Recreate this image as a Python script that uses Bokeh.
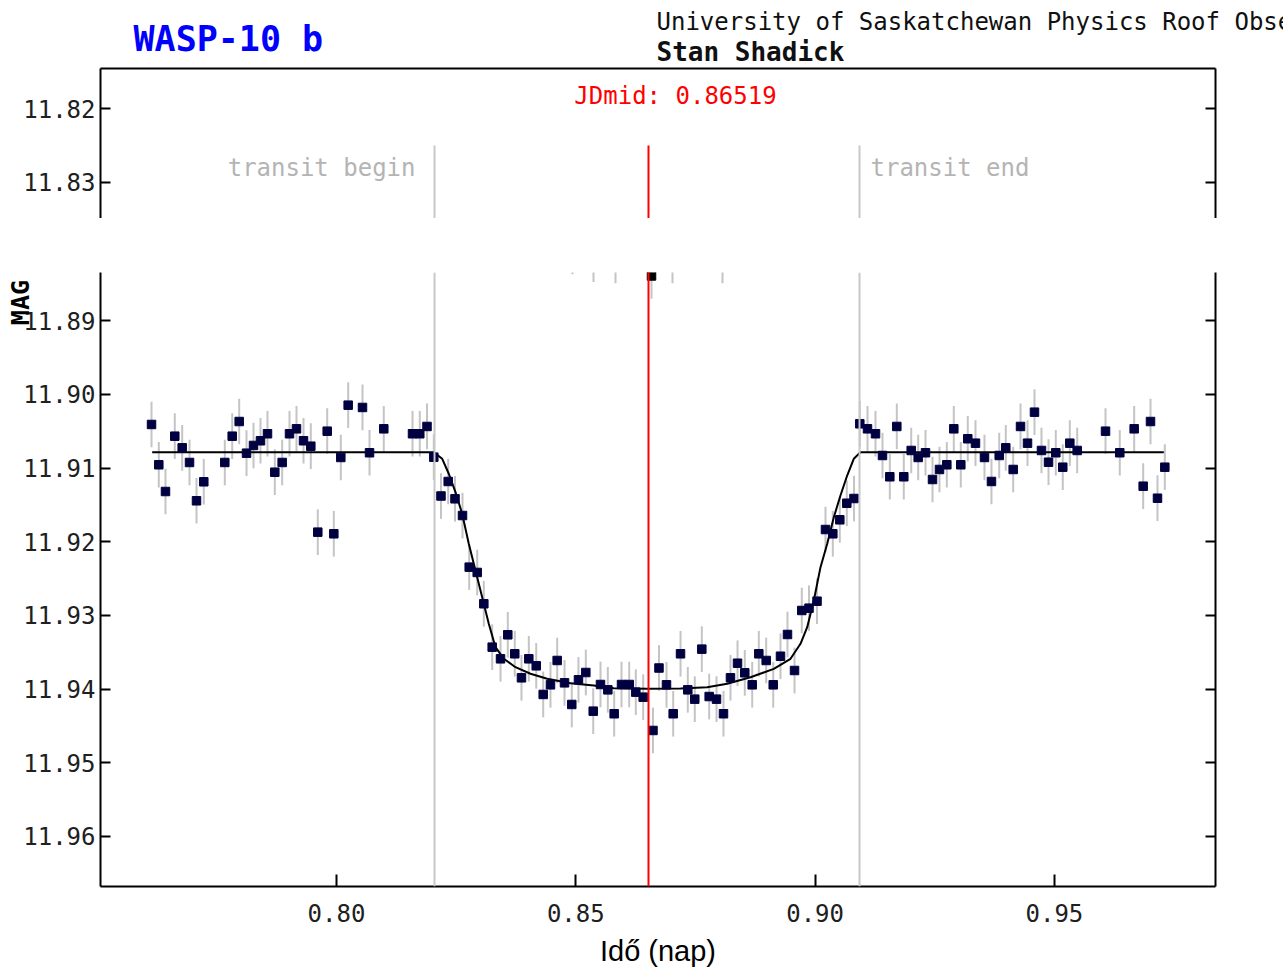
import math
from bokeh.plotting import figure
from bokeh.models import Range1d, LinearAxis, FixedTicker, Label, Span
from bokeh.layouts import column
from bokeh.embed import file_html
from bokeh.resources import INLINE

# ---------------- data ----------------
time_day = [
    0.76135, 0.76287, 0.76427, 0.76621, 0.76776, 0.76929, 0.77075, 0.77227,
    0.77666, 0.77821, 0.77967, 0.78120, 0.78266, 0.78412, 0.78558, 0.78711,
    0.78865, 0.79018, 0.79164, 0.79311, 0.79463, 0.79609, 0.79806, 0.79944,
    0.80090, 0.80244, 0.80543, 0.80690, 0.80988, 0.81588, 0.81740, 0.81891,
    0.82033, 0.82183, 0.82334, 0.82476, 0.82633, 0.82773, 0.82940, 0.83078,
    0.83253, 0.83427, 0.83579, 0.83725, 0.83865, 0.84018, 0.84173, 0.84319,
    0.84471, 0.84611, 0.84764, 0.84916, 0.85056, 0.85209, 0.85364, 0.85516,
    0.85669, 0.85802, 0.85955, 0.86116, 0.86254, 0.86408, 0.86613, 0.86738,
    0.86895, 0.87035, 0.87188, 0.87340, 0.87486, 0.87633, 0.87787, 0.87940,
    0.88086, 0.88232, 0.88379, 0.88531, 0.88686, 0.88824, 0.88978, 0.89125,
    0.89277, 0.89423, 0.89570, 0.89722, 0.89873, 0.90040, 0.90217, 0.90370,
    0.90516, 0.90662, 0.90813, 0.90934, 0.91095, 0.91262, 0.91408, 0.91561,
    0.91707, 0.91853, 0.92008, 0.92154, 0.92307, 0.92453, 0.92599, 0.92752,
    0.92898, 0.93044, 0.93190, 0.93351, 0.93539, 0.93685, 0.93847, 0.93984,
    0.94139, 0.94292, 0.94438, 0.94584, 0.94730, 0.94877, 0.95029, 0.95175,
    0.95322, 0.95476, 0.96068, 0.96366, 0.96667, 0.96855, 0.97008, 0.97154,
    0.97307,
]
mag = [
    11.90407, 11.90954, 11.91317, 11.90566, 11.90724, 11.90923, 11.91443, 11.91185,
    11.90923, 11.90566, 11.90367, 11.90797, 11.90692, 11.90628, 11.90533, 11.91055,
    11.90923, 11.90533, 11.90466, 11.90628, 11.90702, 11.91869, 11.90498, 11.91891,
    11.90855, 11.90145, 11.90176, 11.90791, 11.90466, 11.90533, 11.90533, 11.90434,
    11.90851, 11.91378, 11.91181, 11.91416, 11.91643, 11.92344, 11.92416, 11.92841,
    11.93430, 11.93588, 11.93262, 11.93520, 11.93846, 11.93588, 11.93683, 11.94072,
    11.93941, 11.93611, 11.93914, 11.94208, 11.93873, 11.93774, 11.94299, 11.93937,
    11.94009, 11.94334, 11.93937, 11.93937, 11.94041, 11.94109, 11.94561, 11.93713,
    11.93941, 11.94334, 11.93520, 11.94009, 11.94136, 11.93457, 11.94100, 11.94136,
    11.94334, 11.93846, 11.93648, 11.93778, 11.93941, 11.93520, 11.93611, 11.93941,
    11.93553, 11.93258, 11.93747, 11.92932, 11.92901, 11.92806, 11.91833, 11.91891,
    11.91701, 11.91476, 11.91412, 11.90398, 11.90466, 11.90533, 11.90828, 11.91117,
    11.90434, 11.91117, 11.90760, 11.90855, 11.90791, 11.91154, 11.91018, 11.90954,
    11.90466, 11.90954, 11.90601, 11.90661, 11.90855, 11.91181, 11.90828, 11.90724,
    11.91018, 11.90434, 11.90661, 11.90240, 11.90760, 11.90919, 11.90791, 11.90987,
    11.90661, 11.90760, 11.90498, 11.90791, 11.90466, 11.91245, 11.90367, 11.91408,
    11.90987,
]
mag_err = 0.0031

model_time = [
    0.76149, 0.82027, 0.82209, 0.82346, 0.82486, 0.82626, 0.82764, 0.82904,
    0.83044, 0.83182, 0.83322, 0.83496, 0.83740, 0.84053, 0.84402, 0.84889,
    0.85376, 0.85794, 0.86492, 0.87188, 0.87745, 0.88163, 0.88650, 0.89137,
    0.89486, 0.89695, 0.89835, 0.89973, 0.90113, 0.90253, 0.90391, 0.90530,
    0.90670, 0.90808, 0.90948, 0.97286,
]
model_mag = [
    11.90783, 11.90783, 11.90873, 11.91076, 11.91326, 11.91619, 11.92027, 11.92389,
    11.92752, 11.93113, 11.93430, 11.93588, 11.93702, 11.93791, 11.93859, 11.93919,
    11.93950, 11.93987, 11.93995, 11.93991, 11.93973, 11.93927, 11.93838, 11.93724,
    11.93588, 11.93384, 11.93159, 11.92796, 11.92344, 11.92027, 11.91666, 11.91371,
    11.91100, 11.90873, 11.90783, 11.90783,
]

# fragments of points lying in the cut-out band (only their lower ends show)
hidden_time = [0.84931, 0.85370, 0.85830, 0.86582, 0.87020, 0.88065]
hidden_mag = [11.88059, 11.88163, 11.88181, 11.88391, 11.88181, 11.88181]

transit_begin = 0.82048
transit_end = 0.90928
jd_mid = 0.86519

x_ticks = [0.80, 0.85, 0.90, 0.95]
x_tick_labels = ["0.80", "0.85", "0.90", "0.95"]
y_ticks_top = [11.82, 11.83]
y_ticks_bottom = [11.89, 11.90, 11.91, 11.92, 11.93, 11.94, 11.95, 11.96]

# ---------------- styling ----------------
MONO = "DejaVu Sans Mono"
TICK_SIZE = "24px"
W = 1283

x_range = Range1d(0.75069, 0.98366)


def style_axis(ax, ticks, labels=None):
    ax.ticker = FixedTicker(ticks=ticks)
    ax.axis_line_color = "black"
    ax.axis_line_width = 2
    ax.major_tick_line_color = "black"
    ax.major_tick_line_width = 2
    ax.major_tick_in = 10
    ax.major_tick_out = 0
    ax.minor_tick_line_color = None
    ax.major_label_text_font = MONO
    ax.major_label_text_font_size = TICK_SIZE
    ax.major_label_text_color = "#202020"
    if labels is None:
        ax.major_label_overrides = {t: "" for t in ticks}
        ax.major_label_text_font_size = "0px"
    else:
        ax.major_label_overrides = dict(zip(ticks, labels))


# ---------------- header strip ----------------
head = figure(width=W, height=66, x_range=Range1d(0, 1), y_range=Range1d(0, 1),
              x_axis_location=None, y_axis_location=None,
              toolbar_location=None, output_backend="svg",
              min_border_left=0, min_border_right=0,
              min_border_top=0, min_border_bottom=0,
              outline_line_color=None, background_fill_color="white")
head.grid.grid_line_color = None
try:
    head.frame_align = False
    HX = 0
except Exception:
    HX = -100
head.add_layout(Label(x=133 + HX, y=28, x_units="screen", y_units="screen",
                      text="WASP-10 b", text_font=MONO, text_font_size="35px",
                      text_font_style="bold", text_color="#0000ff",
                      text_baseline="middle"))
head.add_layout(Label(x=656 + HX, y=45, x_units="screen", y_units="screen",
                      text="University of Saskatchewan Physics Roof Observatory",
                      text_font=MONO, text_font_size=TICK_SIZE,
                      text_color="#101010", text_baseline="middle"))
head.add_layout(Label(x=656 + HX, y=15, x_units="screen", y_units="screen",
                      text="Stan Shadick", text_font=MONO, text_font_size="26px",
                      text_font_style="bold", text_color="#101010",
                      text_baseline="middle"))

# ---------------- top panel ----------------
top = figure(width=W, height=152, x_range=x_range,
             y_range=Range1d(11.83489, 11.81457),
             x_axis_location=None, y_axis_location=None,
             toolbar_location=None, output_backend="svg",
             min_border_left=100, min_border_right=68,
             min_border_top=2, min_border_bottom=0,
             outline_line_color=None, background_fill_color="white")
top.grid.grid_line_color = None

ax = LinearAxis()
style_axis(ax, y_ticks_top, ["%.2f" % t for t in y_ticks_top])
ax.major_label_standoff = 5
top.add_layout(ax, "left")
ax = LinearAxis()
style_axis(ax, y_ticks_top)
top.add_layout(ax, "right")
ax = LinearAxis()
style_axis(ax, [])
ax.major_tick_in = 0
top.add_layout(ax, "above")

top.segment(x0=[transit_begin, transit_end], y0=[11.8250, 11.8250],
            x1=[transit_begin, transit_end], y1=[11.8400, 11.8400],
            line_color="#c8c8c8", line_width=2)
top.segment(x0=[jd_mid], y0=[11.8250], x1=[jd_mid], y1=[11.8400],
            line_color="#ff0000", line_width=2)

top.add_layout(Label(x=jd_mid, y=123, x_units="data", y_units="screen",
                     x_offset=27, text="JDmid: 0.86519", text_font=MONO,
                     text_font_size=TICK_SIZE, text_color="#ff0000",
                     text_align="center", text_baseline="middle"))
top.add_layout(Label(x=transit_begin, y=51, x_units="data", y_units="screen",
                     x_offset=-19, text="transit begin", text_font=MONO,
                     text_font_size=TICK_SIZE, text_color="#b4b4b4",
                     text_align="right", text_baseline="middle"))
top.add_layout(Label(x=transit_end, y=51, x_units="data", y_units="screen",
                     x_offset=11, text="transit end", text_font=MONO,
                     text_font_size=TICK_SIZE, text_color="#b4b4b4",
                     text_align="left", text_baseline="middle"))

# ---------------- bottom panel ----------------
bot = figure(width=W, height=753, x_range=x_range,
             y_range=Range1d(11.96679, 11.88344),
             x_axis_location=None, y_axis_location=None,
             toolbar_location=None, output_backend="svg",
             min_border_left=100, min_border_right=68,
             min_border_top=54, min_border_bottom=85,
             outline_line_color=None, background_fill_color="white")
bot.grid.grid_line_color = None

ax = LinearAxis()
style_axis(ax, y_ticks_bottom, ["%.2f" % t for t in y_ticks_bottom])
ax.major_label_standoff = 5
# trailing no-break spaces push the visible word down from the frame top
ax.axis_label = "MAG\u00a0\u00a0\u00a0\u00a0"
ax.axis_label_text_font = MONO
ax.axis_label_text_font_size = "25px"
ax.axis_label_text_font_style = "bold"
ax.axis_label_text_color = "black"
ax.axis_label_standoff = -15
try:
    ax.axis_label_align = "start"
except Exception:
    pass
bot.add_layout(ax, "left")
ax = LinearAxis()
style_axis(ax, y_ticks_bottom)
bot.add_layout(ax, "right")
ax = LinearAxis()
style_axis(ax, x_ticks, x_tick_labels)
ax.major_tick_in = 12
ax.major_label_standoff = 17
ax.axis_label = "Idő (nap)"
ax.axis_label_text_font = "Liberation Sans"
ax.axis_label_text_font_size = "29px"
ax.axis_label_text_font_style = "normal"
ax.axis_label_text_color = "black"
ax.axis_label_standoff = 10
bot.add_layout(ax, "below")

# error bars
bot.segment(x0=time_day, y0=[m - mag_err for m in mag],
            x1=time_day, y1=[m + mag_err for m in mag],
            line_color="#c4c4c4", line_width=2)
bot.segment(x0=hidden_time, y0=[m - mag_err for m in hidden_mag],
            x1=hidden_time, y1=[m + mag_err for m in hidden_mag],
            line_color="#c4c4c4", line_width=2)
# model
bot.line(model_time, model_mag, line_color="black", line_width=2)
# measurements
bot.scatter(time_day, mag, marker="square", size=8.5,
            fill_color="#000040", line_color="#000040")
bot.scatter(hidden_time, hidden_mag, marker="square", size=8.5,
            fill_color="black", line_color="black")

bot.add_layout(Span(location=transit_begin, dimension="height",
                    line_color="#c8c8c8", line_width=2))
bot.add_layout(Span(location=transit_end, dimension="height",
                    line_color="#c8c8c8", line_width=2))
bot.add_layout(Span(location=jd_mid, dimension="height",
                    line_color="#ff0000", line_width=2))

layout = column(head, top, bot, spacing=0)
open("out.html", "w").write(file_html(layout, INLINE))
